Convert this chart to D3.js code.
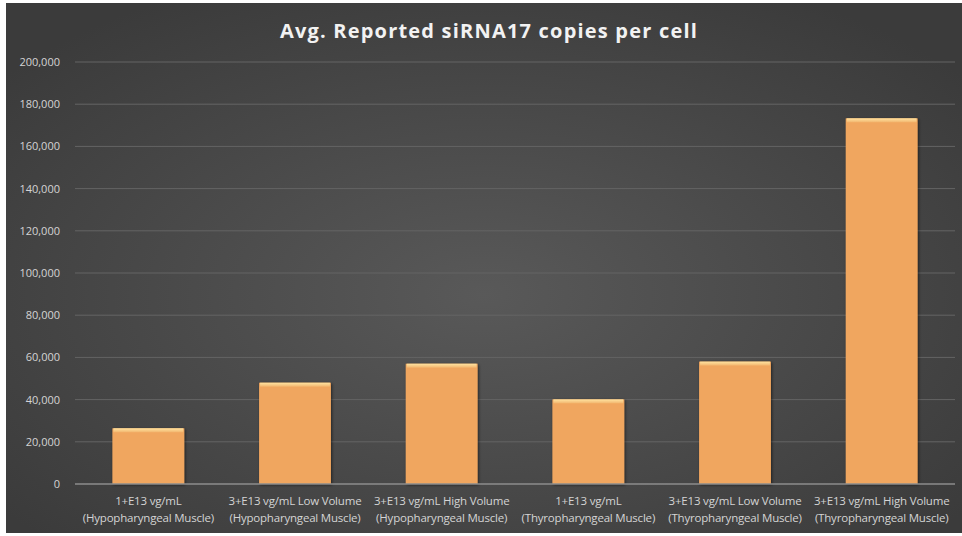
<!DOCTYPE html>
<html>
<head>
<meta charset="utf-8">
<script src="https://cdn.jsdelivr.net/npm/d3@7"></script>
<style>
  body { margin: 0; background: #fff; }
  svg { display: block; }
</style>
</head>
<body>
<svg id="chart" width="962" height="536"></svg>
<script>
(function(){

  // data
  const categoriesLine1 = ["1+E13 vg/mL", "3+E13 vg/mL Low Volume", "3+E13 vg/mL High Volume",
                           "1+E13 vg/mL", "3+E13 vg/mL Low Volume", "3+E13 vg/mL High Volume"];
  const categoriesLine2 = ["(Hypopharyngeal Muscle)", "(Hypopharyngeal Muscle)", "(Hypopharyngeal Muscle)",
                           "(Thyropharyngeal Muscle)", "(Thyropharyngeal Muscle)", "(Thyropharyngeal Muscle)"];
  const copies = [26400, 48000, 57000, 40100, 58000, 173300];
  const yTicks = [0, 20000, 40000, 60000, 80000, 100000, 120000, 140000, 160000, 180000, 200000];
  const title = "Avg. Reported siRNA17 copies per cell";

  const W = 962, H = 536;
  const margin = {top: 62, right: 7, bottom: 52, left: 75};
  const width = W - margin.left - margin.right,
        height = H - margin.top - margin.bottom;

  const svg = d3.select("#chart");
  const defs = svg.append("defs");

  // dark radial background like the office chart style
  const bg = defs.append("radialGradient").attr("id", "bg")
    .attr("cx", "50%").attr("cy", "55%").attr("r", "65%");
  bg.append("stop").attr("offset", "0%").attr("stop-color", "#595959");
  bg.append("stop").attr("offset", "100%").attr("stop-color", "#3b3b3b");

  const bevel = defs.append("linearGradient").attr("id", "bevel")
    .attr("x1", 0).attr("y1", 0).attr("x2", 0).attr("y2", 1);
  bevel.append("stop").attr("offset", "0%").attr("stop-color", "#ffe3a0");
  bevel.append("stop").attr("offset", "100%").attr("stop-color", "#f2b56e");

  const shadow = defs.append("filter").attr("id", "shadow")
    .attr("x", "-10%").attr("y", "-10%").attr("width", "130%").attr("height", "130%");
  shadow.append("feDropShadow").attr("dx", 1).attr("dy", 1).attr("stdDeviation", 1.5)
    .attr("flood-color", "#000").attr("flood-opacity", 0.55);

  svg.append("rect")
    .attr("x", 6).attr("y", 3).attr("width", W - 6).attr("height", 530)
    .attr("fill", "url(#bg)");

  const g = svg.append("g")
    .attr("transform", "translate(" + margin.left + "," + margin.top + ")");

  const xScale = d3.scaleBand()
    .domain(d3.range(copies.length))
    .range([0, width])
    .paddingInner(0.51).paddingOuter(0.255);

  const yScale = d3.scaleLinear().domain([0, 200000]).range([height, 0]);

  // gridlines
  g.append("g")
    .selectAll("line")
    .data(yTicks.slice(1))
    .enter().append("line")
      .attr("x1", 0).attr("x2", width)
      .attr("y1", d => yScale(d)).attr("y2", d => yScale(d))
      .attr("stroke", "#646464").attr("stroke-width", 1);

  // y axis labels
  const yAxis = d3.axisLeft(yScale).tickValues(yTicks)
    .tickFormat(d3.format(",")).tickSize(0).tickPadding(15);
  const ya = g.append("g").call(yAxis);
  ya.select(".domain").remove();
  ya.selectAll("text")
    .attr("fill", "#d4d4d4")
    .style("font", "11px 'Open Sans', sans-serif");

  // bars
  const bars = g.append("g").selectAll("g")
    .data(copies)
    .enter().append("g")
      .attr("filter", "url(#shadow)");

  bars.append("rect")
    .attr("x", (d, i) => xScale(i))
    .attr("y", d => yScale(d))
    .attr("width", xScale.bandwidth())
    .attr("height", d => height - yScale(d))
    .attr("fill", "#f0a65e");

  bars.append("rect")
    .attr("x", (d, i) => xScale(i) + 1)
    .attr("y", d => yScale(d))
    .attr("width", xScale.bandwidth() - 2)
    .attr("height", 4)
    .attr("fill", "url(#bevel)");

  // x axis line
  g.append("line")
    .attr("x1", 0).attr("x2", width)
    .attr("y1", height).attr("y2", height)
    .attr("stroke", "#8c8c8c").attr("stroke-width", 1.5);

  // category labels, two lines each
  const labels = g.append("g").selectAll("text")
    .data(copies)
    .enter().append("text")
      .attr("text-anchor", "middle")
      .attr("fill", "#d4d4d4")
      .style("font", "11.5px 'Open Sans', sans-serif")
      .style("letter-spacing", "-0.2px")
      .attr("transform", (d, i) => "translate(" + (xScale(i) + xScale.bandwidth() / 2) + "," + (height + 21) + ")");

  labels.append("tspan").attr("x", 0).attr("y", 0).text((d, i) => categoriesLine1[i]);
  labels.append("tspan").attr("x", 0).attr("y", 17).text((d, i) => categoriesLine2[i]);

  // title
  svg.append("text")
    .attr("x", 489).attr("y", 38)
    .attr("text-anchor", "middle")
    .attr("fill", "#f2f2f2")
    .style("font", "bold 20px 'Open Sans', sans-serif")
    .style("letter-spacing", "1.2px")
    .text(title);

})();
</script>
</body>
</html>
